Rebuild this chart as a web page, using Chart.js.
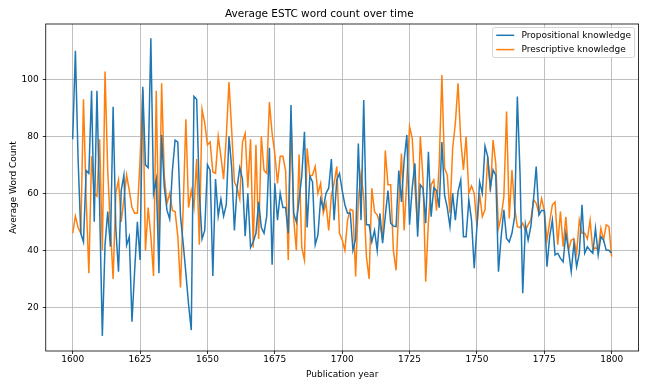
<!DOCTYPE html>
<html>
<head>
<meta charset="utf-8">
<script src="https://cdn.jsdelivr.net/npm/chart.js@4"></script>
<style>
  html, body { margin: 0; padding: 0; background: #fff; }
  #wrap { width: 648px; height: 389px; }
</style>
</head>
<body>
<div id="wrap"><canvas id="myChart" width="648" height="389"></canvas></div>
<script>
// years 1600..1800, one value per year
const startYear = 1600;
const endYear = 1800;
const xTicks = [1600, 1625, 1650, 1675, 1700, 1725, 1750, 1775, 1800];
const yTicks = [20, 40, 60, 80, 100];

const propositional = [
  79, 110, 72, 46, 43, 68, 67, 96, 50, 96,
  55, 10, 42, 53.6, 41.3, 90.4, 47.7, 32.5, 61, 66.4,
  41.8, 44.8, 15, 33, 50, 36.6, 97.4, 70, 69, 114.4,
  60, 65, 32, 80.5, 62, 54, 51, 68, 78.7, 78,
  52, 42.5, 32, 21, 12, 94, 93, 60, 44, 47,
  70, 68, 31, 65, 52, 58, 52, 56, 80, 69,
  47, 62, 69, 65, 45, 60, 41, 43, 46, 57,
  48, 46, 52, 76, 35, 63.5, 50.6, 60, 55, 55,
  46, 91, 53, 50, 57.7, 66, 81.6, 48, 66, 64,
  42, 45.4, 58, 54.7, 60, 61.8, 72, 50.6, 64.7, 67,
  61, 56, 53, 53, 40, 44, 77.5, 50.6, 92.7, 49,
  49, 43, 47, 40, 53, 42.5, 52, 61, 49.5, 48.5,
  48.3, 68, 57, 71.7, 80.5, 49, 62, 70.5, 44.8, 63,
  61.8, 49.5, 74.6, 51.8, 62, 61, 55, 78, 59.4, 55,
  48.3, 60, 50.6, 60.6, 64.7, 44.8, 44.8, 57.7, 50.6, 33.7,
  48.3, 64, 60, 76.6, 72.9, 62, 68.2, 66.4, 32.5, 44.8,
  54.2, 44.2, 43, 46, 51.8, 94, 67, 25, 49, 43.6,
  48.3, 57.7, 69.4, 52.4, 54, 54, 34.3, 44.8, 50.6, 38.4,
  39, 37.2, 36, 46, 40, 32.5, 42.5, 34.3, 39, 56,
  39, 41.3, 40, 39, 47.7, 38.4, 44.8, 43.6, 40, 40,
  39
];

const prescriptive = [
  46, 52, 48, 46, 93, 58, 32, 73, 60, 59,
  79, 40, 102.7, 68, 48, 30, 60, 64.7, 50, 58,
  66.4, 61, 55, 53, 53, 72, 96.3, 40, 55, 45,
  31, 96, 42, 98.6, 66, 56.5, 60, 54, 53.6, 45,
  27, 55, 86, 55, 61, 55, 72, 42, 89.5, 84.6,
  77, 78, 67.5, 67, 80, 73, 65, 80, 99, 82,
  64, 62, 58, 78, 81, 62, 79, 41, 77, 44,
  80, 68, 67, 92, 81, 74, 63.5, 73, 73, 68,
  36.6, 87, 51, 40, 73.6, 41, 36.6, 75.8, 66, 66.4,
  69.4, 60, 63.5, 53, 56.5, 47, 59.4, 63.5, 69.4, 46,
  43.6, 40, 50.6, 54.4, 54, 30.8, 57.7, 67, 58.8, 37.8,
  30, 61.8, 53.6, 52.4, 49.5, 43.6, 75, 63, 63, 40,
  33, 55, 74, 47, 65, 83.4, 79.3, 62, 48, 80,
  65, 29, 50, 63, 64.7, 54, 70, 101.5, 68.8, 66.4,
  53, 75.8, 84.6, 98.6, 78.7, 68.2, 79.9, 60, 62.6, 60,
  48.3, 60, 51.8, 54.2, 72.9, 60.6, 78.7, 70.5, 47.7, 51.8,
  58.8, 88.7, 51.2, 68.2, 55, 48.3, 48, 49.5, 47, 49,
  50.6, 57.7, 56.5, 53, 58.2, 54, 43.6, 50, 56, 57,
  42, 53.6, 41.3, 51.8, 40, 43.6, 44, 39, 50.6, 46,
  46, 44, 50.6, 40, 41, 40, 47.7, 43.6, 49, 48.3,
  37.8
];

const seriesNames = ['Propositional knowledge', 'Prescriptive knowledge'];
const seriesColors = ['#1f77b4', '#ff7f0e'];

const years = [];
for (let y = startYear; y <= endYear; y++) years.push(y);

function toPoints(values) {
    return values.map((v, i) => ({ x: years[i], y: v }));
}

const FONT = 'DejaVu Sans';

// matplotlib-like frame around the plot area
const framePlugin = {
    id: 'frame',
    afterDatasetsDraw(chart) {
        const a = chart.chartArea;
        const ctx = chart.ctx;
        ctx.save();
        ctx.strokeStyle = '#000';
        ctx.lineWidth = 0.8;
        ctx.strokeRect(a.left, a.top, a.right - a.left, a.bottom - a.top);
        ctx.restore();
    }
};

// legend box inside the upper right corner
const innerLegend = {
    id: 'innerLegend',
    afterDraw(chart) {
        const a = chart.chartArea;
        const ctx = chart.ctx;
        const fs = 9;
        ctx.save();
        ctx.font = fs + 'px "' + FONT + '"';
        let w = 0;
        seriesNames.forEach(n => { w = Math.max(w, ctx.measureText(n).width); });
        const pad = 0.4 * fs;
        const handle = 2 * fs;
        const gap = 0.8 * fs;
        const boxW = pad + handle + gap + w + pad;
        const boxH = 30;
        const x0 = a.right - 4 - boxW;
        const y0 = a.top + 3.5;
        ctx.fillStyle = 'rgba(255,255,255,0.8)';
        ctx.strokeStyle = '#cccccc';
        ctx.lineWidth = 0.8;
        ctx.beginPath();
        ctx.roundRect(x0, y0, boxW, boxH, 2);
        ctx.fill();
        ctx.stroke();
        seriesNames.forEach((n, i) => {
            const yy = y0 + 7.8 + i * 14.3;
            ctx.strokeStyle = seriesColors[i];
            ctx.lineWidth = 1.5;
            ctx.beginPath();
            ctx.moveTo(x0 + pad, yy);
            ctx.lineTo(x0 + pad + handle, yy);
            ctx.stroke();
            ctx.fillStyle = '#000';
            ctx.textBaseline = 'middle';
            ctx.fillText(n, x0 + pad + handle + gap, yy + 0.5);
        });
        ctx.restore();
    }
};

const ctx = document.getElementById('myChart');
Chart.defaults.font.family = FONT;
Chart.defaults.color = '#000';

new Chart(ctx, {
    type: 'line',
    data: {
        datasets: [{
            label: seriesNames[0],
            data: toPoints(propositional),
            borderColor: seriesColors[0],
            backgroundColor: seriesColors[0],
            borderWidth: 1.5,
            pointRadius: 0,
            tension: 0
        }, {
            label: seriesNames[1],
            data: toPoints(prescriptive),
            borderColor: seriesColors[1],
            backgroundColor: seriesColors[1],
            borderWidth: 1.5,
            pointRadius: 0,
            tension: 0
        }]
    },
    plugins: [framePlugin, innerLegend],
    options: {
        responsive: false,
        animation: false,
        layout: { padding: { left: 0, right: 9.4, top: 0, bottom: 0 } },
        plugins: {
            legend: { display: false },
            tooltip: { enabled: false },
            title: {
                display: true,
                text: 'Average ESTC word count over time',
                font: { size: 10.5, weight: 'normal' },
                color: '#000',
                padding: { top: 7.7, bottom: 3.7 }
            }
        },
        scales: {
            x: {
                type: 'linear',
                min: 1590,
                max: 1810,
                afterBuildTicks(axis) { axis.ticks = xTicks.map(v => ({ value: v })); },
                ticks: { font: { size: 9 }, color: '#000', maxRotation: 0, padding: 0,
                    callback: v => String(v) },
                grid: { color: '#b0b0b0', lineWidth: 0.8, tickLength: 3, tickColor: '#000' },
                border: { display: false },
                title: { display: true, text: 'Publication year', font: { size: 9 }, color: '#000', padding: { top: 2, bottom: 8.6 } },
                afterFit(axis) { axis.height = 38; }
            },
            y: {
                min: 4.7,
                max: 119.4,
                afterBuildTicks(axis) { axis.ticks = yTicks.map(v => ({ value: v })); },
                ticks: { font: { size: 9 }, color: '#000', padding: 4 },
                grid: { color: '#b0b0b0', lineWidth: 0.8, tickLength: 3, tickColor: '#000' },
                border: { display: false },
                title: { display: true, text: 'Average Word Count', font: { size: 9 }, color: '#000', padding: { top: 8.5, bottom: 4 } },
                afterFit(axis) { axis.width = 45.75; }
            }
        }
    }
});
</script>
</body>
</html>
